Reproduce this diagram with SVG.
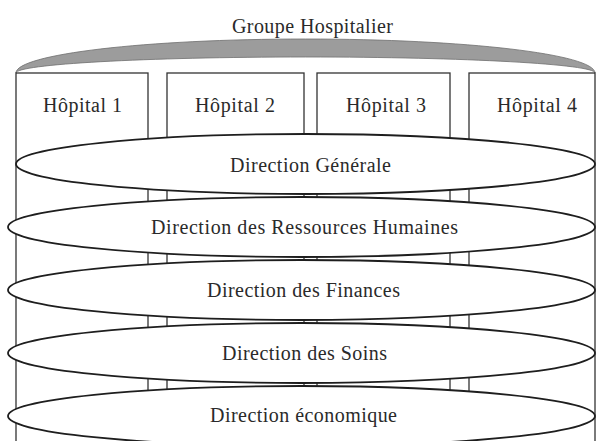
<svg xmlns="http://www.w3.org/2000/svg" width="596" height="441" viewBox="0 0 596 441">
<style>
.t{font-family:"Liberation Serif","Times New Roman",serif;font-size:20px;fill:#2a2a2a;text-anchor:middle}
.box{fill:#fff;stroke:#333;stroke-width:1.3}
.ell{fill:#fff;stroke:#1e1e1e;stroke-width:1.8}
.band{fill:#9c9c9c;stroke:#6e6e6e;stroke-width:0.8}
</style>
<rect width="596" height="441" fill="#fff"/>
<g id="groupe">
<path class="band" d="M16 73 C16 54.2 145.6 39 305.5 39 C465.4 39 595 54.2 595 73 C595 64.2 465.4 57 305.5 57 C145.6 57 16 64.2 16 73 Z"/>
<text class="t" x="312.5" y="33" textLength="161" lengthAdjust="spacing">Groupe Hospitalier</text>
</g>
<g id="hopital1">
<rect class="box" x="16" y="73" width="132" height="380"/>
<text class="t" x="82.5" y="112" textLength="79" lengthAdjust="spacing">Hôpital 1</text>
</g>
<g id="hopital2">
<rect class="box" x="167" y="73" width="137" height="380"/>
<text class="t" x="235" y="112" textLength="80" lengthAdjust="spacing">Hôpital 2</text>
</g>
<g id="hopital3">
<rect class="box" x="317" y="73" width="133" height="380"/>
<text class="t" x="386" y="112" textLength="80" lengthAdjust="spacing">Hôpital 3</text>
</g>
<g id="hopital4">
<rect class="box" x="469" y="73" width="126" height="380"/>
<text class="t" x="537" y="112" textLength="80" lengthAdjust="spacing">Hôpital 4</text>
</g>
<g id="direction-generale">
<ellipse class="ell" cx="305.5" cy="164" rx="289.5" ry="30"/>
<text class="t" x="310.5" y="172" textLength="161" lengthAdjust="spacing">Direction Générale</text>
</g>
<g id="direction-rh">
<ellipse class="ell" cx="301.5" cy="227" rx="293.5" ry="30"/>
<text class="t" x="304.5" y="234" textLength="307" lengthAdjust="spacing">Direction des Ressources Humaines</text>
</g>
<g id="direction-finances">
<ellipse class="ell" cx="301.5" cy="290" rx="293.5" ry="30"/>
<text class="t" x="303.5" y="297" textLength="193" lengthAdjust="spacing">Direction des Finances</text>
</g>
<g id="direction-soins">
<ellipse class="ell" cx="301.5" cy="353" rx="293.5" ry="30"/>
<text class="t" x="304.5" y="360" textLength="165" lengthAdjust="spacing">Direction des Soins</text>
</g>
<g id="direction-economique">
<ellipse class="ell" cx="301.5" cy="416" rx="293.5" ry="30"/>
<text class="t" x="303.5" y="422" textLength="187" lengthAdjust="spacing">Direction économique</text>
</g>
</svg>
